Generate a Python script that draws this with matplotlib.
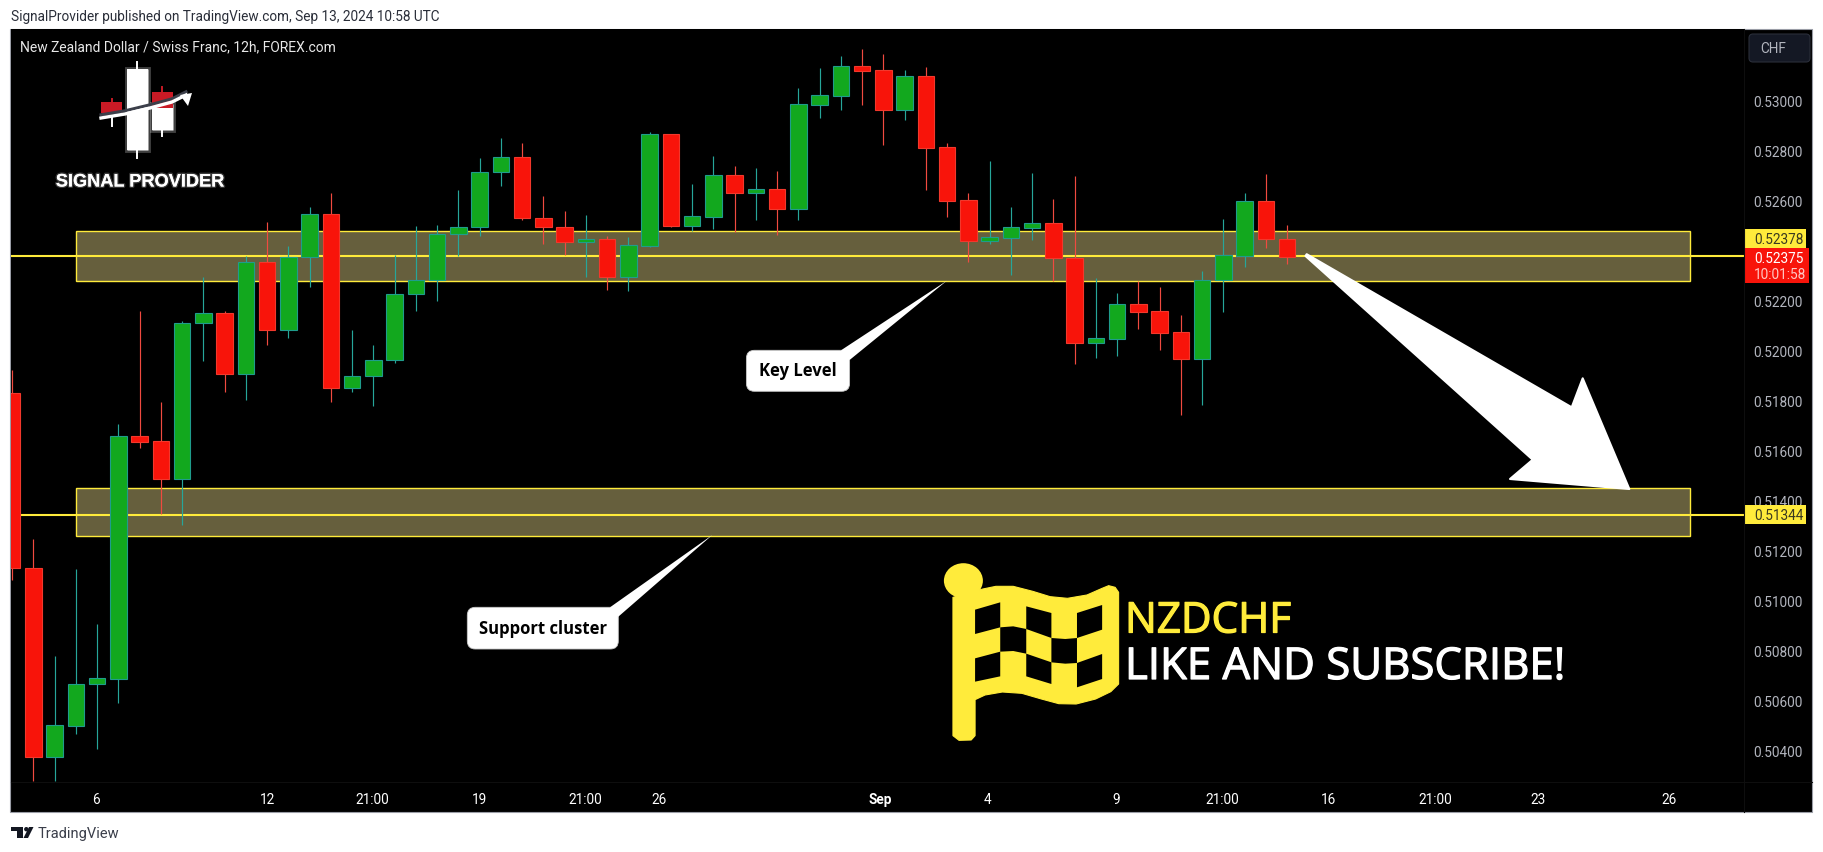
# -*- coding: utf-8 -*-
import numpy as np
import matplotlib
matplotlib.use('Agg')
import matplotlib.pyplot as plt
import matplotlib.patheffects as pe
from matplotlib.patches import Rectangle, Polygon, FancyBboxPatch, Ellipse, Circle

W, H = 1824, 853

# candles, price in 1e-5 units
highs = [51923, 51247, 50779, 51127, 50907, 51707, 52159, 51795, 52119, 52295, 52159,
         52379, 52515, 52419, 52575, 52631, 52083, 52023, 52383, 52499, 52503, 52643,
         52771, 52851, 52831, 52619, 52559, 52543, 52459, 52455, 52875, 52867, 52667,
         52779, 52739, 52731, 52719, 53051, 53131, 53179, 53207, 53187, 53123, 53135,
         52831, 52631, 52759, 52575, 52711, 52607, 52699, 52291, 52231, 52279, 52255,
         52143, 52319, 52527, 52631, 52707, 52503]
lows = [51083, 50279, 50279, 50467, 50407, 50591, 51611, 51347, 51303, 51959, 51835,
        51803, 52023, 52051, 52255, 51795, 51835, 51779, 51951, 52159, 52199, 52379,
        52459, 52659, 52523, 52427, 52383, 52295, 52243, 52239, 52415, 52495, 52479,
        52487, 52475, 52523, 52463, 52523, 52931, 52963, 52983, 52823, 52923, 52643,
        52535, 52355, 52427, 52303, 52443, 52279, 51947, 51971, 51979, 52087, 52003,
        51743, 51783, 52155, 52335, 52411, 52347]
opens = [51831, 51131, 50375, 50499, 50667, 50687, 51659, 51639, 51487, 52111, 52151,
         51907, 52355, 52083, 52375, 52547, 51851, 51899, 51963, 52227, 52283, 52467,
         52495, 52715, 52775, 52531, 52495, 52435, 52447, 52295, 52419, 52867, 52499,
         52535, 52703, 52631, 52647, 52567, 52983, 53019, 53139, 53123, 52963, 53099,
         52815, 52603, 52439, 52451, 52491, 52511, 52371, 52031, 52047, 52187, 52159,
         52075, 51967, 52283, 52379, 52599, 52447]
closes = [51131, 50375, 50503, 50667, 50691, 51659, 51635, 51487, 52111, 52151, 51907,
          52355, 52083, 52375, 52547, 51851, 51899, 51963, 52227, 52283, 52467, 52495,
          52715, 52775, 52531, 52495, 52435, 52447, 52295, 52423, 52867, 52499, 52539,
          52703, 52631, 52647, 52567, 52987, 53023, 53139, 53119, 52963, 53099, 52811,
          52599, 52439, 52455, 52495, 52511, 52371, 52031, 52051, 52187, 52155, 52071,
          51967, 52283, 52383, 52599, 52447, 52375]

key_level = 0.52378
support_level = 0.51344
key_zone = (0.52280, 0.52479)
support_zone = (0.51258, 0.51450)

price_ticks = [0.530, 0.528, 0.526, 0.522, 0.520, 0.518, 0.516, 0.514, 0.512, 0.510,
               0.508, 0.506, 0.504]
time_ticks = [3.95, 12.0, 16.94, 22.0, 26.96, 30.44, 40.84, 45.92, 51.95, 56.94, 61.97,
              66.96, 71.8, 77.97]
time_labels = ['6', '12', '21:00', '19', '21:00', '26', 'Sep', '4', '9', '21:00', '16',
               '21:00', '23', '26']

GREEN, GREEN_EDGE, GREEN_WICK = '#12a81e', '#1f9c8c', '#26a69a'
RED, RED_EDGE, RED_WICK = '#f8140a', '#f2382c', '#f04a40'
YELLOW = '#ffeb3b'
ZONE = '#665f3d'
UI_FONT = ['Roboto', 'DejaVu Sans']
SCALE_SIZE = 9.8

fig = plt.figure(figsize=(W / 100, H / 100), dpi=100, facecolor='white')


def pixel_axes(z):
    a = fig.add_axes([0, 0, 1, 1], zorder=z)
    a.set_xlim(0, W)
    a.set_ylim(H, 0)
    a.axis('off')
    a.patch.set_alpha(0)
    return a


back = pixel_axes(0)
front = pixel_axes(2)

# chart frame
back.add_patch(Rectangle((10.5, 30), 1801.5, 783, fc='black', ec='#9a9da6', lw=0.8))

ax = fig.add_axes([11 / W, (H - 783) / H, (1744 - 11) / W, 753 / H], zorder=1)
ax.set_facecolor('black')
for s in ax.spines.values():
    s.set_visible(False)

x = np.arange(len(opens))
o = np.array(opens) / 1e5
c = np.array(closes) / 1e5
hi = np.array(highs) / 1e5
lo = np.array(lows) / 1e5
up = c > o

# zones go under the candles, and only span part of the pane
zone_left, zone_right = 3.03, 78.98
for bottom, top in (key_zone, support_zone):
    ax.add_patch(Rectangle((zone_left, bottom), zone_right - zone_left, top - bottom,
                           fc=ZONE, ec=YELLOW, lw=1.0, zorder=1))
ax.axhline(key_level, color=YELLOW, lw=1.5, zorder=1.5)
ax.axhline(support_level, color=YELLOW, lw=1.5, zorder=1.5)

ax.vlines(x, lo, hi, colors=np.where(up, GREEN_WICK, RED_WICK), lw=0.85, zorder=2)
ax.bar(x, np.abs(c - o), bottom=np.minimum(o, c), width=0.78,
       color=np.where(up, GREEN, RED), edgecolor=np.where(up, GREEN_EDGE, RED_EDGE),
       linewidth=0.8, zorder=3)

ax.set_xlim(-0.052, 81.5)
ax.set_ylim(0.50275, 0.53287)
ax.yaxis.tick_right()
ax.set_yticks(price_ticks)
ax.set_yticklabels(['%.5f' % p for p in price_ticks], family=UI_FONT, fontsize=SCALE_SIZE, color='#b2b5be')
ax.set_xticks(time_ticks)
ax.set_xticklabels(time_labels, family=UI_FONT, fontsize=SCALE_SIZE, color='white')
ax.tick_params(axis='y', length=0, pad=7)
ax.tick_params(axis='x', length=0, pad=7.5)
ax.get_xticklabels()[6].set_fontweight('bold')

# separators of the scales
front.plot([11, 1812], [783, 783], color='#0e0e0e', lw=0.8)
front.plot([1744, 1744], [30, 813], color='#0e0e0e', lw=0.8)

# header, footer and title
front.text(11, 17, 'SignalProvider published on TradingView.com, Sep 13, 2024 10:58 UTC',
           family=UI_FONT, fontsize=9.8, color='#2a2e39', va='center')
front.text(20, 47.5, 'New Zealand Dollar / Swiss Franc, 12h, FOREX.com',
           family=UI_FONT, fontsize=10, color='#e8e8e8', va='center')
front.text(38, 834, 'TradingView', family=UI_FONT, fontsize=10.5, color='#3a3e4a', va='center')
logo_dark = '#131722'
front.add_patch(Polygon([(11, 828), (23, 828), (23, 839), (17, 839), (17, 832), (11, 832)], fc=logo_dark))
front.add_patch(Circle((26.3, 830.2), 2.2, fc=logo_dark))
front.add_patch(Polygon([(29, 828), (33.5, 828), (28, 839), (23.5, 839)], fc=logo_dark))

# currency button and price labels
front.add_patch(FancyBboxPatch((1751, 37), 57, 24, boxstyle='round,pad=2,rounding_size=4',
                               fc='#141824', ec='#2a2e39', lw=0.8))
front.text(1760, 49, 'CHF', family=UI_FONT, fontsize=9.8, color='#b2b5be', va='center')

front.add_patch(Rectangle((1745, 230), 61, 19, fc=YELLOW, ec='none'))
front.text(1754, 240, '%.5f' % key_level, family=UI_FONT, fontsize=SCALE_SIZE, color='#3a3a20', va='center')
front.add_patch(Rectangle((1745, 249), 64, 35, fc='#f8140a', ec='none'))
front.text(1754, 259, '0.52375', family=UI_FONT, fontsize=SCALE_SIZE, color='white', va='center')
front.text(1754, 275, '10:01:58', family=UI_FONT, fontsize=SCALE_SIZE, color='#ffc8c4', va='center')
front.add_patch(Rectangle((1745, 506), 61, 19, fc=YELLOW, ec='none'))
front.text(1754, 516, '%.5f' % support_level, family=UI_FONT, fontsize=SCALE_SIZE, color='#3a3a20', va='center')

# callouts
for box, tail, label, centre in [
    ((746.4, 351.3, 103.2, 41), [(841, 351.3), (946.9, 281.7), (849.6, 361)], 'Key Level', (798, 371)),
    ((467.3, 608.3, 151, 41.7), [(610, 608.3), (712.3, 536), (618.3, 617.7)], 'Support cluster', (543, 629)),
]:
    bx, by, bw, bh = box
    front.add_patch(FancyBboxPatch((bx + 8, by + 8), bw - 16, bh - 16,
                                   boxstyle='round,pad=8,rounding_size=8', fc='white', ec='#c8c8c8', lw=0.6))
    front.add_patch(Polygon(tail, fc='white', ec='none'))
    front.text(centre[0], centre[1], label, family=['Open Sans', 'DejaVu Sans'], fontweight='bold',
               fontsize=12, color='black', ha='center', va='center')

# big arrow down to the support
front.add_patch(Polygon([(1306.7, 255.2), (1571.7, 408.3), (1582.7, 379.3), (1629.3, 490),
                         (1510, 480), (1532.7, 460.7), (1305.5, 257)],
                        fc='white', ec='white', lw=1.5, joinstyle='round'))


# checkered flag, traced in the reference crop
def fp(points):
    return [(920 + px / 2.306, 540 + py / 3) for px, py in points]


front.add_patch(Ellipse((963.4, 581.7), 39, 35, fc=YELLOW, ec='none'))
front.add_patch(Polygon(fp([(76, 175), (145, 150), (175, 142), (215, 142), (260, 157), (300, 173),
                            (340, 178), (385, 168), (420, 148), (435, 140), (450, 145), (458, 160),
                            (458, 435), (440, 458), (405, 480), (360, 495), (320, 494), (280, 480),
                            (235, 463), (190, 459), (150, 468), (127, 482), (127, 590), (118, 603),
                            (90, 604), (76, 590)]),
                        fc=YELLOW, ec=YELLOW, lw=0.8, joinstyle='round'))
for cell in [
    [(127, 212), (185, 190), (185, 265), (127, 285)],
    [(127, 358), (185, 338), (185, 412), (127, 428)],
    [(185, 265), (215, 262), (245, 270), (245, 344), (215, 336), (185, 338)],
    [(245, 202), (303, 222), (303, 297), (245, 270)],
    [(245, 344), (303, 370), (303, 435), (245, 412)],
    [(303, 297), (335, 300), (362, 297), (362, 372), (335, 374), (303, 370)],
    [(362, 222), (420, 198), (420, 272), (362, 297)],
    [(362, 372), (420, 345), (420, 420), (362, 445)],
]:
    front.add_patch(Polygon(fp(cell), fc='black', ec='none'))
banner = ['Open Sans', 'DejaVu Sans']
front.text(1125, 633.5, 'NZDCHF', family=banner, fontsize=30.4, color=YELLOW, va='baseline',
           path_effects=[pe.withStroke(linewidth=0.9, foreground=YELLOW)])
front.text(1125, 680, 'LIKE AND SUBSCRIBE!', family=banner, fontsize=31.5, color='white', va='baseline',
           path_effects=[pe.withStroke(linewidth=0.9, foreground='white')])

# signal provider logo
glow = [pe.withStroke(linewidth=3.5, foreground='#ffffff40')]
for rect, colour in [
    ((126.7, 70, 21, 81), 'white'),
    ((152, 105, 21, 26), 'white'),
    ((152, 93.3, 21, 16), '#c91a25'),
    ((101, 103, 21, 10.5), '#c91a25'),
]:
    p = Rectangle(rect[:2], rect[2], rect[3], fc=colour, ec='none', zorder=3)
    if colour == 'white':
        p.set_path_effects(glow + [pe.Normal()])
    front.add_patch(p)
front.plot([137.3, 137.3], [63, 159], color='white', lw=1.4, zorder=2)
front.plot([162.5, 162.5], [131, 137], color='white', lw=1.4, zorder=2)
front.plot([162.5, 162.5], [88, 94], color='#c91a25', lw=1.4, zorder=2)
front.plot([111.7, 111.7], [100, 104], color='#c91a25', lw=1.4, zorder=2)
front.plot([111.7, 111.7], [118, 127], color='white', lw=1.4, zorder=2)
curve_x = [101, 125, 150, 172, 186]
curve_y = [119, 115, 109, 103, 96]
front.plot(curve_x, np.array(curve_y) - 3.2, color='#3c3f4a', lw=2.2, zorder=4)
front.plot(curve_x, curve_y, color='white', lw=2.4, zorder=5)
front.add_patch(Polygon([(192, 94), (180, 96), (188, 107)], fc='white', ec='none', zorder=5))
front.text(140, 183, 'SIGNAL PROVIDER', family=['Liberation Sans', 'DejaVu Sans'], fontweight='bold',
           fontsize=13.1, color='white', ha='center', va='center',
           path_effects=[pe.withStroke(linewidth=2, foreground='#ffffff38')])

fig.savefig('out.png', dpi=100, facecolor='white')
